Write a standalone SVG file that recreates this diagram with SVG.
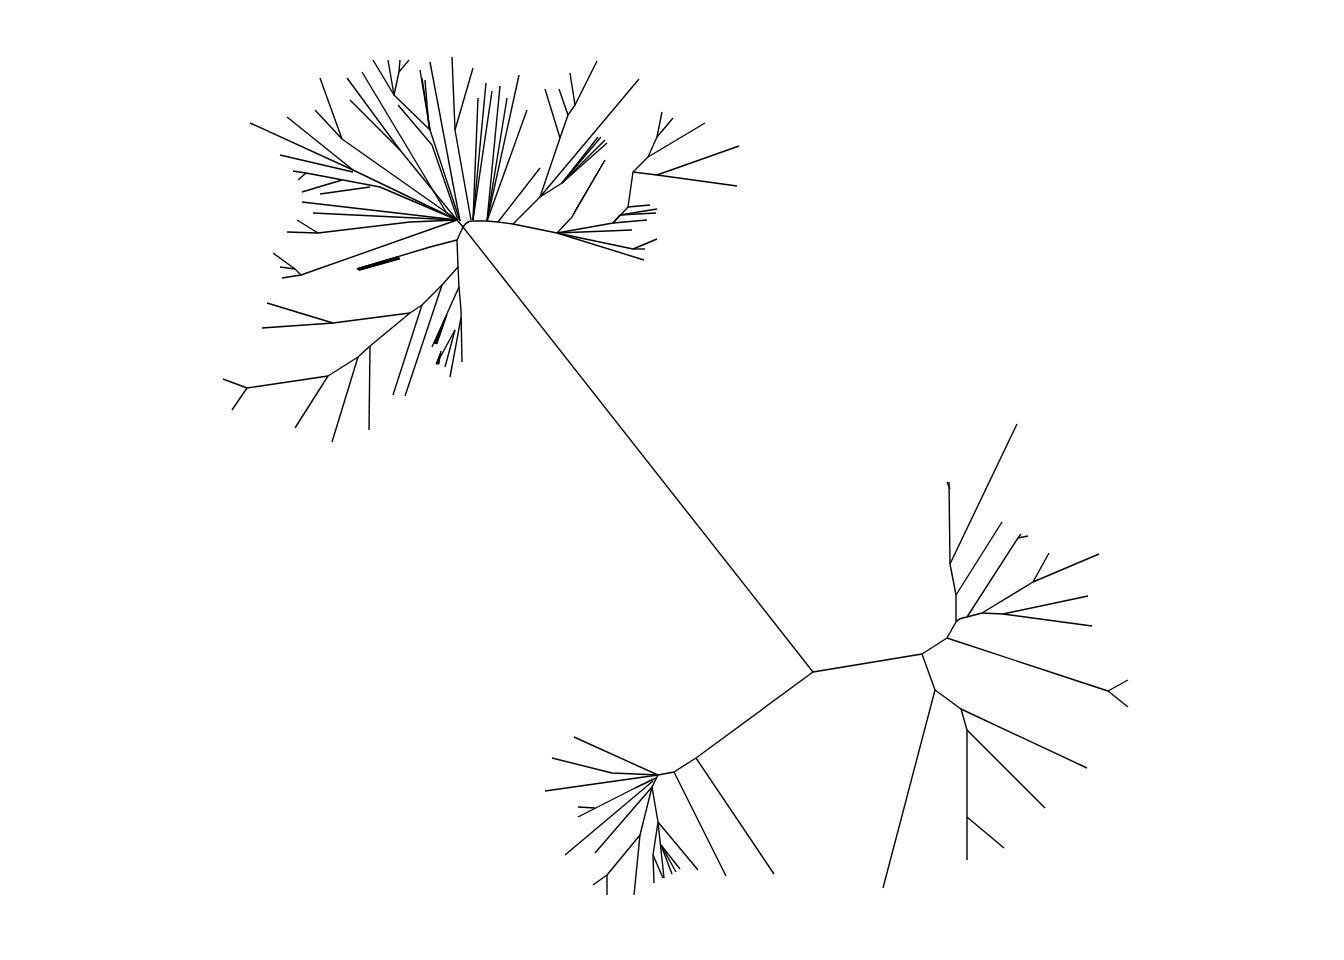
<svg xmlns="http://www.w3.org/2000/svg" width="1344" height="960" viewBox="0 0 1344 960">
<style>
path{fill:none;stroke:#000;stroke-width:1.4;stroke-linejoin:round}
.w{fill:#000;stroke-width:1}
</style>
<rect width="1344" height="960" fill="#fff"/>
<g id="connectors">
<path d="M463 227 L813 672"/>
<path d="M813 672 L922 654"/>
<path d="M813 672 L696 758"/>
</g>
<g id="clade-right">
<path d="M922 654 L947 638 L956 622 L956 595 L950 564 L949 482"/>
<path d="M947 482 L950 489"/>
<path d="M950 564 L1017 424"/>
<path d="M956 595 L1002 522"/>
<path d="M947 638 L1108 691 L1128 680"/>
<path d="M1108 691 L1128 707"/>
<path d="M956 622 Q959 618 967 617 L982 613"/>
<path d="M967 617 L1018 538 L1028 536"/>
<path d="M1018 538 L1021 534"/>
<path d="M982 613 L1033 582 L1099 554"/>
<path d="M1033 582 L1049 553"/>
<path d="M982 613 L1003 614 L1088 596"/>
<path d="M1003 614 L1092 626"/>
<path d="M922 654 L935 690 L883 888"/>
<path d="M935 690 L961 709 L1087 768"/>
<path d="M961 709 L967 730 L967 860"/>
<path d="M967 730 L1045 808"/>
<path d="M967 817 L1004 848"/>
</g>
<g id="clade-bottom">
<path d="M696 758 L674 772 L658 775"/>
<path d="M696 758 L774 874"/>
<path d="M674 772 L726 876"/>
<path d="M658 775 L574 737"/>
<path d="M658 775 L612 773 L552 758"/>
<path d="M658 775 L545 791"/>
<path d="M656 778 L635 788 L578 817"/>
<path d="M595 808 L578 807"/>
<path d="M653 781 L565 855"/>
<path d="M658 775 L652 787 L595 853"/>
<path d="M652 787 L640 835 L607 875 L593 885"/>
<path d="M607 875 L607 895"/>
<path d="M640 835 L634 895"/>
<path d="M652 787 L658 822 L698 870"/>
<path d="M658 822 L664 878"/>
<path d="M661 845 L680 869"/>
<path d="M661 845 L676 872"/>
<path d="M661 845 L672 874"/>
<path d="M658 822 L653 855 L654 883"/>
<path d="M653 855 L663 878"/>
</g>
<g id="clade-top">
<path d="M250 123 L353 170 L457 220"/>
<path d="M287 117 L353 170"/>
<path d="M280 155 L353 172"/>
<path d="M320 78 L342 139 L457 220"/>
<path d="M315 110 L342 139"/>
<path d="M347 78 L400 150 L457 220"/>
<path d="M350 100 L400 150"/>
<path d="M362 72 L446 212 L457 220"/>
<path d="M373 60 L394 95"/>
<path d="M388 60 L394 95 L399 72 L400 60"/>
<path d="M399 72 L409 60"/>
<path d="M394 95 L430 130 L460 221"/>
<path d="M420 70 L430 130"/>
<path d="M422 78 L430 130"/>
<path d="M425 80 L429 128"/>
<path d="M398 105 L432 145 L458 220"/>
<path d="M430 62 L460 221"/>
<path d="M452 57 L455 130 L471 220"/>
<path d="M473 68 L455 130"/>
<path d="M478 98 L473 220"/>
<path d="M486 83 L473 220"/>
<path d="M492 91 L473 220"/>
<path d="M500 86 L487 221"/>
<path d="M507 98 L487 221"/>
<path d="M519 75 L487 221"/>
<path d="M527 110 L487 221"/>
<path d="M540 168 L498 222"/>
<path d="M457 220 L463 227 Q467 221 472 221 L487 221 L498 222 L513 224 L557 233"/>
<path d="M513 224 L540 197 L639 79"/>
<path d="M540 197 L560 138 L545 89"/>
<path d="M560 138 L568 115 L559 89"/>
<path d="M568 115 L575 105 L570 73"/>
<path d="M575 105 L597 61"/>
<path d="M540 197 L562 183 L598 137"/>
<path d="M562 183 L601 137"/>
<path d="M562 183 L605 140"/>
<path d="M562 183 L607 143"/>
<path d="M557 233 L572 217 L605 160"/>
<path class="w" d="M573 215 L605 160 L599 170 L576 209 Z"/>
<path d="M557 233 L613 223 L628 207 L633 172 L648 157 L657 137 L662 112"/>
<path d="M657 137 L673 118"/>
<path d="M648 157 L705 123"/>
<path d="M633 172 L657 175 L739 146"/>
<path d="M657 175 L737 186"/>
<path d="M628 207 L650 205"/>
<path d="M613 223 L620 215 L657 209"/>
<path d="M620 215 L656 213"/>
<path d="M613 223 L647 220"/>
<path d="M557 233 L632 230"/>
<path d="M557 233 L633 249 L657 239"/>
<path d="M633 249 L645 249"/>
<path d="M557 233 L644 260"/>
<path d="M293 171 L306 173 L380 187 L457 220"/>
<path d="M298 180 L306 173"/>
<path d="M302 192 L342 180"/>
<path d="M320 194 L370 187"/>
<path d="M302 202 L457 220"/>
<path d="M313 213 L457 220"/>
<path d="M297 220 L318 233"/>
<path d="M287 232 L318 233 L410 222 L457 220"/>
<path d="M273 253 L295 269"/>
<path d="M280 267 L295 269 L301 275"/>
<path d="M282 278 L301 275 L457 220"/>
<path d="M357 269 L430 247 L457 240"/>
<path class="w" d="M357 268.5 L398 256.5 L400 259 L359 270.5 Z"/>
<path d="M463 227 L457 240 L458 267 L459 287 L461 310 L462 362"/>
<path d="M458 267 L442 285 L422 305 L410 313 L370 346 L358 357 L328 376 L247 388 L223 379"/>
<path d="M247 388 L232 410"/>
<path d="M328 376 L295 428"/>
<path d="M358 357 L332 442"/>
<path d="M370 346 L369 430"/>
<path d="M410 313 L333 323 L267 303"/>
<path d="M333 323 L262 328"/>
<path d="M422 305 L393 395"/>
<path d="M442 285 L405 396"/>
<path d="M459 287 L432 347"/>
<path class="w" d="M447 315 L434 343 L437 344 Z"/>
<path d="M461 318 L450 377"/>
<path d="M455 330 L437 363"/>
<path d="M455 330 L445 367"/>
<path class="w" d="M441 351 L436 364 L439 364 Z"/>
</g>
</svg>
